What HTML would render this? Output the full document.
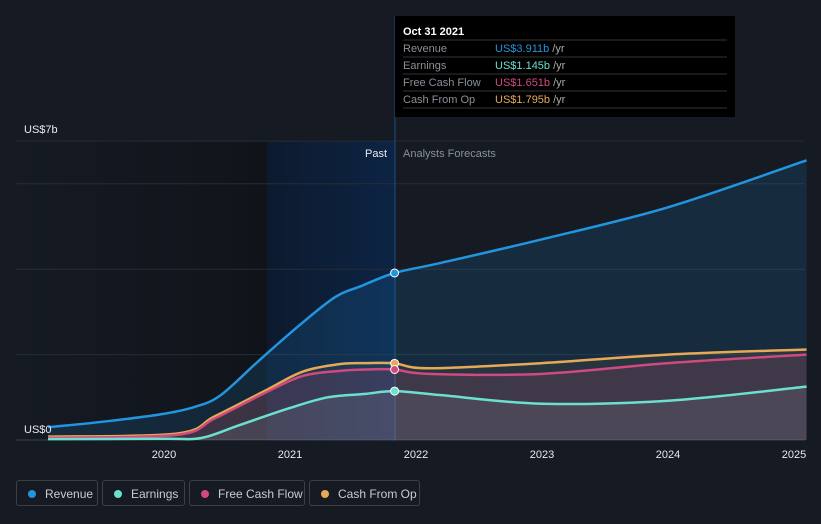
<!DOCTYPE html>
<html><head><meta charset="utf-8"><style>
body{margin:0;background:#151a23;font-family:"Liberation Sans",sans-serif;}
svg{display:block}
.leg{position:absolute;top:480px;height:26px;border:1px solid #3a3f48;border-radius:3px;color:#c9ccd1;font-size:12px;line-height:26px;box-sizing:border-box;padding-left:28px}
.leg i{position:absolute;left:11px;top:9px;width:8px;height:8px;border-radius:50%}
</style></head><body>
<div style="position:relative;width:821px;height:524px;overflow:hidden">
<svg id="c" width="821" height="524">
<defs>
<linearGradient id="pastL" x1="0" x2="1"><stop offset="0" stop-color="#151a23"/><stop offset="1" stop-color="#10141a"/></linearGradient>
<linearGradient id="pastB" x1="0" x2="1"><stop offset="0" stop-color="#0d1a2e"/><stop offset="1" stop-color="#0c2444"/></linearGradient>
</defs>
<rect x="18" y="141" width="249" height="300" fill="url(#pastL)"/>
<rect x="267" y="141" width="128" height="300" fill="url(#pastB)"/>
<g id="grid"></g>
<line x1="395" y1="16" x2="395" y2="441" stroke="#1f4f80" stroke-width="1"/>
<g id="series"></g>
<text x="24" y="133" fill="#e8eaed" font-size="11">US$7b</text>
<text x="24" y="433" fill="#e8eaed" font-size="11">US$0</text>
<text x="387" y="157" fill="#e8eaed" font-size="11" text-anchor="end">Past</text>
<text x="403" y="157" fill="#8a9099" font-size="11">Analysts Forecasts</text>
<g id="xt"></g>
<g>
<rect x="395" y="16" width="340" height="101" fill="#000"/>
<text x="403" y="35" fill="#fff" font-size="11" font-weight="bold">Oct 31 2021</text>
<g stroke="#333" stroke-width="1"><line x1="403" y1="40" x2="727" y2="40"/><line x1="403" y1="57" x2="727" y2="57"/><line x1="403" y1="74" x2="727" y2="74"/><line x1="403" y1="91" x2="727" y2="91"/><line x1="403" y1="108" x2="727" y2="108"/></g>
<g font-size="11" fill="#8a9099"><text x="403" y="52">Revenue</text><text x="403" y="69">Earnings</text><text x="403" y="86">Free Cash Flow</text><text x="403" y="103">Cash From Op</text></g>
<g font-size="11"><text x="495" y="52" fill="#2394df">US$3.911b <tspan fill="#aaa">/yr</tspan></text><text x="495" y="69" fill="#6be0cf">US$1.145b <tspan fill="#aaa">/yr</tspan></text><text x="495" y="86" fill="#d0497f">US$1.651b <tspan fill="#aaa">/yr</tspan></text><text x="495" y="103" fill="#e8a956">US$1.795b <tspan fill="#aaa">/yr</tspan></text></g>
</g>
</svg>
<div class="leg" style="left:16px;width:82px"><i style="background:#2394df"></i>Revenue</div>
<div class="leg" style="left:102px;width:83px"><i style="background:#6be0cf"></i>Earnings</div>
<div class="leg" style="left:189px;width:116px"><i style="background:#d0497f"></i>Free Cash Flow</div>
<div class="leg" style="left:309px;width:111px"><i style="background:#e8a956"></i>Cash From Op</div>
</div>
<script>
const xTicks=[2020,2021,2022,2023,2024,2025];
const gridVals=[0,2,4,6,7];
const revYears=[2019.08,2019.49,2019.97,2020.25,2020.45,2020.75,2021.08,2021.36,2021.56,2021.83,2022.2,2023,2024,2025.1];
const revenue=[0.3,0.42,0.6,0.78,1.05,1.85,2.7,3.35,3.6,3.911,4.15,4.7,5.45,6.55];
const earnYears=[2019.08,2020.0,2020.3,2020.6,2021.0,2021.3,2021.6,2021.83,2022.2,2023,2024,2025.1];
const earnings=[0.02,0.03,0.05,0.35,0.75,1.0,1.08,1.145,1.05,0.85,0.92,1.25];
const fcfYears=[2019.08,2020.1,2020.4,2020.8,2021.1,2021.4,2021.6,2021.83,2022.1,2023,2024,2025.1];
const fcf=[0.05,0.12,0.5,1.1,1.5,1.62,1.65,1.651,1.55,1.55,1.8,2.0];
const cfoYears=[2019.08,2020.1,2020.4,2020.8,2021.1,2021.4,2021.6,2021.83,2022.1,2023,2024,2025.1];
const cfo=[0.08,0.15,0.55,1.15,1.6,1.78,1.8,1.795,1.68,1.8,2.0,2.12];
const X=y=>164+(y-2020)*126, Y=v=>440-v*42.7;
const NS="http://www.w3.org/2000/svg";
function mk(t,a,p){const e=document.createElementNS(NS,t);for(const k in a)e.setAttribute(k,a[k]);p.appendChild(e);return e;}
const grid=document.getElementById('grid');
gridVals.forEach(v=>{const l=mk('line',{x1:16,x2:805,y1:Y(v),y2:Y(v),stroke:v==0?'#3a404a':'#262c36','stroke-width':1},grid);

});
const xt=document.getElementById('xt');
xTicks.forEach(t=>{const e=mk('text',{x:X(t),y:458,fill:'#e8eaed','font-size':11,'text-anchor':'middle'},xt);e.textContent=t;

});
function path(xs,vs){const p=xs.map((x,i)=>[X(x),Y(vs[i])]);let d='M'+p[0];for(let i=0;i<p.length-1;i++){const p0=p[i-1]||p[i],p1=p[i],p2=p[i+1],p3=p[i+2]||p2;
const c1=[p1[0]+(p2[0]-p0[0])/6,p1[1]+(p2[1]-p0[1])/6],c2=[p2[0]-(p3[0]-p1[0])/6,p2[1]-(p3[1]-p1[1])/6];d+='C'+c1+' '+c2+' '+p2;}return {d,p};}
const S=document.getElementById('series');
const defs=[['revenue',revYears,revenue,'#2394df','rgba(35,148,223,0.15)'],['cash-from-op',cfoYears,cfo,'#e8a956','rgba(232,169,86,0.08)'],['free-cash-flow',fcfYears,fcf,'#d0497f','rgba(208,73,127,0.15)'],['earnings',earnYears,earnings,'#6be0cf','rgba(150,160,170,0.15)']];
defs.forEach(([n,xs,vs,c,f])=>{const {d,p}=path(xs,vs);
const a=mk('path',{d:d+'L'+p[p.length-1][0]+','+Y(0)+'L'+p[0][0]+','+Y(0)+'Z',fill:f},S);


const l=mk('path',{d,fill:'none',stroke:c,'stroke-width':2.5},S);

});
defs.forEach(([n,xs,vs,c])=>{const i=xs.indexOf(2021.83);const d=mk('circle',{cx:X(2021.83),cy:Y(vs[i]),r:4,fill:c,stroke:'#fff','stroke-width':1},S);

});
</script>
</body></html>
